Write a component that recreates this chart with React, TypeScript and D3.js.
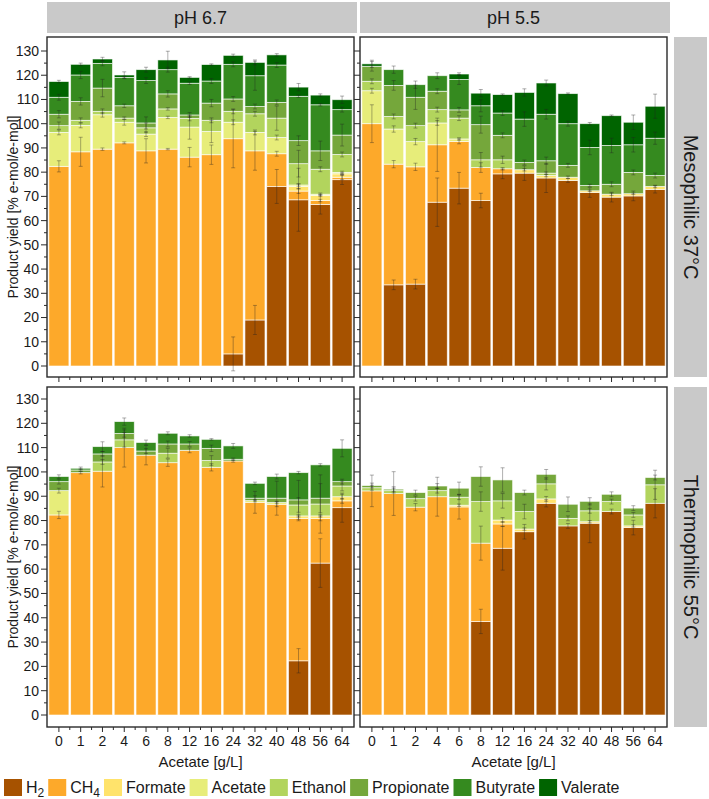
import React from 'react';
import * as d3 from 'd3';

// ---------- data ----------
const categories = ['0', '1', '2', '4', '6', '8', '12', '16', '24', '32', '40', '48', '56', '64'];
const seriesKeys = ['H2', 'CH4', 'Formate', 'Acetate', 'Ethanol', 'Propionate', 'Butyrate', 'Valerate'];
const seriesColors = ['#A65200', '#FDA92A', '#FFE36B', '#E7ED7A', '#B2D45D', '#75A73B', '#358A1F', '#006400'];
const phLabels = ['pH 6.7', 'pH 5.5'];
const tempLabels = ['Mesophilic 37°C', 'Thermophilic 55°C'];
const yTickValues = [0, 10, 20, 30, 40, 50, 60, 70, 80, 90, 100, 110, 120, 130];
const yTitle = 'Product yield [% e-mol/e-mol]';
const xTitle = 'Acetate [g/L]';

// Mesophilic, pH 6.7
const meso67H2 = [0, 0, 0, 0, 0, 0, 0, 0, 5, 19, 74.1, 68.6, 66.7, 76.9];
const meso67CH4 = [82.4, 88.4, 89.5, 92.1, 88.8, 89.5, 86.2, 87.2, 88.8, 69.8, 13.5, 3.6, 1.6, 1.0];
const meso67Formate = [0, 0, 0, 0, 0, 0, 0, 0, 0, 0, 0, 1.9, 2.1, 1.4];
const meso67Acetate = [14, 10.9, 14.2, 8.5, 6.9, 13.1, 12.4, 9.6, 6.8, 7.6, 6.7, 0.6, 0.5, 0.6];
const meso67Ethanol = [2.8, 2.1, 1.4, 1.7, 2.6, 3.5, 3.6, 4.6, 4.5, 7.7, 8, 8.8, 10.3, 7.4];
const meso67Propionate = [4.7, 7.8, 9.6, 5.1, 2, 6.2, 1.4, 7.1, 5.1, 3, 6.5, 9.5, 7.6, 8];
const meso67Butyrate = [7, 10.9, 10.2, 11.7, 17.5, 10, 13.1, 9.1, 14.3, 12.7, 15.4, 18.3, 19, 10.5];
const meso67Valerate = [6.5, 4.4, 1.8, 1.0, 4.5, 4, 2.4, 6.8, 3.7, 5.5, 4.2, 3.8, 4, 4.1];

// Mesophilic, pH 5.5
const meso55H2 = [0, 33.5, 33.8, 67.6, 73.4, 68.3, 79.3, 79.6, 77.6, 76.6, 71.6, 69.7, 70.2, 72.9];
const meso55CH4 = [100, 49.8, 48.4, 23.7, 19.3, 13.6, 2.1, 0, 0, 0, 0, 0, 0, 0];
const meso55Formate = [0, 0, 0, 0, 0, 0, 0, 1.4, 1, 1.3, 0.7, 1.2, 0.9, 1.2];
const meso55Acetate = [13.6, 14.5, 10.4, 9, 1, 0, 0, 0, 0, 0, 0, 0, 0, 0];
const meso55Ethanol = [3.9, 5.2, 6.6, 5.5, 8.6, 3.2, 3.7, 0, 1, 0, 0, 0, 0, 0];
const meso55Propionate = [6.2, 12.8, 11.7, 7.6, 3.4, 14.5, 10.1, 3, 5.1, 4.9, 2.2, 4.1, 8.8, 4.5];
const meso55Butyrate = [0, 6.5, 5.2, 6.4, 12.5, 7.8, 9.2, 17.9, 19.2, 17.2, 15.7, 16, 11.4, 15.4];
const meso55Valerate = [1, 0, 0, 0, 2.3, 5.2, 7.6, 11, 12.9, 12.4, 9.8, 12.3, 9.3, 13.2];

// Thermophilic, pH 6.7
const thermo67H2 = [0, 0, 0, 0, 0, 0, 0, 0, 0, 0, 0, 22.3, 62.5, 85.3];
const thermo67CH4 = [82.3, 99.7, 100.3, 110, 106.9, 103.8, 108.9, 101.9, 104.5, 87.5, 86.7, 58.6, 18.4, 2.8];
const thermo67Formate = [0, 0, 0, 0, 0, 0, 0, 0, 0, 0, 0, 1, 1, 1.7];
const thermo67Acetate = [10, 0, 0, 0, 0, 0, 0, 0, 0, 0.7, 0.7, 0, 0, 0];
const thermo67Ethanol = [0, 0, 3.8, 3.2, 0, 3.9, 0, 2.8, 0, 0, 0, 4.5, 4.9, 4.4];
const thermo67Propionate = [3.7, 1.1, 3.3, 2.6, 1.7, 3.8, 2.6, 5, 0.7, 1, 1.8, 2.1, 2.4, 1.8];
const thermo67Butyrate = [2.1, 0.7, 3, 4.9, 3.5, 4.4, 3.3, 3.7, 5.5, 6.1, 8.9, 11.2, 13.7, 13.7];
const thermo67Valerate = [0, 0, 0, 0, 0, 0, 0, 0, 0, 0, 0, 0, 0, 0];

// Thermophilic, pH 5.5
const thermo55H2 = [0, 0, 0, 0, 0, 38.5, 68.6, 75.4, 87.1, 77.8, 78.9, 83.7, 77.1, 87.1];
const thermo55CH4 = [92.2, 91.1, 85.5, 89.8, 85.6, 32.2, 10, 0, 0, 0, 0, 0, 0, 0];
const thermo55Formate = [0, 0, 0, 0, 0.7, 0, 1.6, 1.1, 1.8, 0, 0.6, 0, 0.7, 0];
const thermo55Acetate = [0, 0, 0, 0, 0, 0, 0, 0, 0, 0, 0, 0, 0, 0];
const thermo55Ethanol = [1.3, 1.2, 3.5, 2.5, 3.3, 17.1, 7.9, 7.2, 6.2, 3.1, 4.5, 4.1, 4.5, 7.6];
const thermo55Propionate = [0.9, 0.6, 2.5, 1.9, 3.7, 10.3, 8.6, 7.8, 3.9, 5.8, 3.9, 3, 2.8, 3];
const thermo55Butyrate = [0, 0, 0, 0, 0, 0, 0, 0, 0, 0, 0, 0, 0, 0];
const thermo55Valerate = [0, 0, 0, 0, 0, 0, 0, 0, 0, 0, 0, 0, 0, 0];

// Standard deviations (same series order)
const meso67Err = [
  [0, 0, 0, 0, 0, 0, 0, 0, 7, 6, 7, 13, 4, 2],
  [2.3, 6, 0.5, 0.4, 5, 0.3, 4, 4, 12, 8, 1, 1, 0.5, 1],
  [0, 0, 0, 0, 0, 0, 0, 0, 0, 0, 0, 1, 0.5, 0.5],
  [1, 1, 1, 1.2, 1, 0.5, 5, 4.6, 1, 1, 1, 0.5, 0.5, 0.5],
  [1.5, 1, 1, 0.5, 2, 0.5, 1, 1, 1, 1, 5, 5.5, 1, 1],
  [1.5, 1.5, 3.6, 0.7, 2.5, 1.3, 1, 1.5, 1, 1, 1, 2, 4, 4.5],
  [1.2, 1.5, 1, 0.5, 1.2, 1, 0.5, 1, 1, 6, 1, 0.5, 0.5, 1],
  [0.5, 0.5, 0.7, 1.3, 1, 3.6, 0.3, 0.3, 0.5, 1, 0.5, 1.5, 0.5, 1.5],
];
const meso55Err = [
  [0, 2, 2, 10, 6.5, 3, 2, 3, 6, 0.8, 2, 2, 2, 1.5],
  [7.8, 1.5, 1.5, 11, 1, 2, 0.5, 0, 0, 0, 0, 0, 0, 0],
  [0, 0, 0, 0, 0, 0, 0, 0.5, 0.5, 0.5, 0.3, 0.5, 0.3, 0.5],
  [1, 1.3, 1.3, 1, 0.5, 0, 0, 0, 0, 0, 0, 0, 0, 0],
  [1, 1, 1, 1, 1, 3, 1.5, 0, 0.5, 0, 0, 0, 0, 0],
  [2, 2, 5, 1, 1, 3.5, 1, 1, 1.5, 0.8, 0.5, 1, 1, 1],
  [0, 1.5, 1.5, 1.2, 2, 2.5, 1, 3, 2, 1, 3, 3, 3, 2.5],
  [1.5, 0, 0, 0, 0.5, 1.5, 0.3, 1.5, 1.2, 0.3, 0.5, 0.3, 3, 5],
];
const thermo67Err = [
  [0, 0, 0, 0, 0, 0, 0, 0, 0, 0, 0, 5, 10, 6],
  [1.5, 0.5, 6.5, 8, 4, 1.5, 1, 1.5, 0.5, 4.5, 1, 1, 1, 1],
  [0, 0, 0, 0, 0, 0, 0, 0, 0, 0, 0, 0.5, 0.5, 1],
  [1, 0, 0, 0, 0, 0, 0, 0, 0, 0.5, 0.5, 0, 0, 0],
  [0, 0, 1, 3, 0, 2, 0, 2, 0, 0, 0, 3, 12, 2],
  [1, 0.5, 1, 1.5, 1, 1.2, 1, 1.3, 0.5, 1, 7, 8, 6, 1],
  [0.7, 0.5, 2, 1.5, 1, 0.6, 0.5, 0.3, 1, 0.5, 1, 0.5, 0.5, 3.5],
  [0, 0, 0, 0, 0, 0, 0, 0, 0, 0, 0, 0, 0, 0],
];
const thermo55Err = [
  [0, 0, 0, 0, 0, 5, 9, 3, 1.5, 1, 8, 1, 3, 6],
  [6.5, 9, 1.5, 8, 5, 7, 1, 0, 0, 0, 0, 0, 0, 0],
  [0, 0, 0, 0, 0.5, 0, 1, 0.5, 1, 0, 0.5, 0, 0.5, 0],
  [0, 0, 0, 0, 0, 0, 0, 0, 0, 0, 0, 0, 0, 0],
  [1, 1, 1, 1, 1, 4, 3, 3, 2.5, 1, 1, 1, 1, 6],
  [1, 1, 1, 1, 2.5, 4, 5, 1, 2, 3, 1.5, 1, 1, 1],
  [0, 0, 0, 0, 0, 0, 0, 0, 0, 0, 0, 0, 0, 0],
  [0, 0, 0, 0, 0, 0, 0, 0, 0, 0, 0, 0, 0, 0],
];

const panelsData = [
  { row: 0, col: 0, values: [meso67H2, meso67CH4, meso67Formate, meso67Acetate, meso67Ethanol, meso67Propionate, meso67Butyrate, meso67Valerate], errors: meso67Err },
  { row: 0, col: 1, values: [meso55H2, meso55CH4, meso55Formate, meso55Acetate, meso55Ethanol, meso55Propionate, meso55Butyrate, meso55Valerate], errors: meso55Err },
  { row: 1, col: 0, values: [thermo67H2, thermo67CH4, thermo67Formate, thermo67Acetate, thermo67Ethanol, thermo67Propionate, thermo67Butyrate, thermo67Valerate], errors: thermo67Err },
  { row: 1, col: 1, values: [thermo55H2, thermo55CH4, thermo55Formate, thermo55Acetate, thermo55Ethanol, thermo55Propionate, thermo55Butyrate, thermo55Valerate], errors: thermo55Err },
];

// ---------- layout ----------
const W = 709;
const H = 799;
const FONT = 'Liberation Sans, Arial, Helvetica, sans-serif';
const colX = [[47, 354], [360, 667]];
const rowY = [[37, 377], [387, 727]];
const rowZero = [366, 715];
const rowTop130 = [51, 399];
const stripTop = [2, 33];
const stripRight = [674, 707];
const textColor = '#1a1a1a';

function measure(text: string, size: number) {
  const c = document.createElement('canvas').getContext('2d');
  if (!c) return text.length * size * 0.55;
  c.font = `${size}px ${FONT}`;
  return c.measureText(text).width;
}

function Panel({ p }: { p: typeof panelsData[number] }) {
  const [x0, x1] = colX[p.col];
  const [y0, y1] = rowY[p.row];
  const x = d3.scaleBand<string>().domain(categories).range([x0 + 1, x1 - 1]).paddingInner(0.08).paddingOuter(0.04);
  const y = d3.scaleLinear().domain([0, 130]).range([rowZero[p.row], rowTop130[p.row]]);
  const table = categories.map((c, i) => {
    const o: any = { cat: c };
    seriesKeys.forEach((k, s) => (o[k] = p.values[s][i]));
    return o;
  });
  const stacked = d3.stack<any>().keys(seriesKeys)(table);
  const minorY = d3.range(5, 135, 10);
  const bw = x.bandwidth();
  const step = x.step();
  const minorX = categories.slice(0, -1).map((c) => (x(c) as number) + bw + (step - bw) / 2);
  return (
    <g>
      {stacked.map((layer, s) => (
        <g key={layer.key} fill={seriesColors[s]}>
          {layer.map((d, i) =>
            d[1] - d[0] > 0 ? (
              <rect
                key={i}
                x={x(categories[i])}
                y={y(d[1])}
                width={bw}
                height={y(d[0]) - y(d[1])}
                stroke="#ffffff"
                strokeOpacity={0.75}
                strokeWidth={0.8}
              />
            ) : null
          )}
        </g>
      ))}
      {stacked.map((layer, s) =>
        layer.map((d, i) => {
          const e = p.errors[s][i];
          if (!(d[1] - d[0] > 0) || !e) return null;
          const cx = (x(categories[i]) as number) + bw / 2;
          const ya = y(d[1] + e);
          const yb = y(d[1] - e);
          return (
            <g key={`e${s}-${i}`} stroke="#222" strokeOpacity={0.45} strokeWidth={0.8}>
              <line x1={cx} x2={cx} y1={ya} y2={yb} />
              <line x1={cx - 2} x2={cx + 2} y1={ya} y2={ya} />
              <line x1={cx - 2} x2={cx + 2} y1={yb} y2={yb} />
            </g>
          );
        })
      )}
      {/* frame */}
      <rect x={x0} y={y0} width={x1 - x0} height={y1 - y0} fill="none" stroke="#2a2a2a" strokeWidth={1.4} />
      {/* y ticks */}
      {yTickValues.map((v) => (
        <line key={`yt${v}`} x1={x0 - 6} x2={x0} y1={y(v)} y2={y(v)} stroke="#2a2a2a" strokeWidth={1} />
      ))}
      {minorY.map((v) => (
        <line key={`ym${v}`} x1={x0 - 3} x2={x0} y1={y(v)} y2={y(v)} stroke="#2a2a2a" strokeWidth={1} />
      ))}
      {p.col === 0 &&
        yTickValues.map((v) => (
          <text key={`yl${v}`} x={x0 - 8} y={y(v)} dy="0.35em" textAnchor="end" fontSize={14} fill={textColor} fontFamily={FONT}>
            {v}
          </text>
        ))}
      {/* x ticks */}
      {categories.map((c) => {
        const cx = (x(c) as number) + bw / 2;
        return <line key={`xt${c}`} x1={cx} x2={cx} y1={y1} y2={y1 + 5} stroke="#2a2a2a" strokeWidth={1} />;
      })}
      {minorX.map((mx, i) => (
        <line key={`xm${i}`} x1={mx} x2={mx} y1={y1} y2={y1 + 3} stroke="#2a2a2a" strokeWidth={1} />
      ))}
      {p.row === 1 &&
        categories.map((c) => (
          <text key={`xl${c}`} x={(x(c) as number) + bw / 2} y={y1 + 19} textAnchor="middle" fontSize={14} fill={textColor} fontFamily={FONT}>
            {c}
          </text>
        ))}
    </g>
  );
}

function Legend() {
  const size = 16;
  const subSize = 12;
  const boxW = 18;
  let cur = 4;
  const items = seriesKeys.map((k, i) => {
    const isSub = k === 'H2' || k === 'CH4';
    const main = isSub ? k.slice(0, -1) : k;
    const sub = isSub ? k.slice(-1) : '';
    const tw = measure(main, size) + (sub ? measure(sub, subSize) : 0);
    const item = { k, main, sub, bx: cur, tx: cur + boxW + 4, color: seriesColors[i] };
    cur = cur + boxW + 4 + tw + 4;
    return item;
  });
  return (
    <g>
      {items.map((it) => (
        <g key={it.k}>
          <rect x={it.bx} y={779} width={boxW} height={17} fill={it.color} />
          <text x={it.tx} y={793} fontSize={size} fill={textColor} fontFamily={FONT}>
            {it.main}
            {it.sub && (
              <tspan fontSize={subSize} dy={4}>
                {it.sub}
              </tspan>
            )}
          </text>
        </g>
      ))}
    </g>
  );
}

export default function App() {
  return (
    <svg width={W} height={H} style={{ position: 'absolute', left: 0, top: 0, background: '#fff' }} fontFamily={FONT}>
      <rect x={0} y={0} width={W} height={H} fill="#ffffff" />
      {/* column strips */}
      {phLabels.map((l, c) => (
        <g key={l}>
          <rect x={colX[c][0]} y={stripTop[0]} width={colX[c][1] - colX[c][0] + 3} height={stripTop[1] - stripTop[0]} fill="#c9c9c9" />
          <text x={(colX[c][0] + colX[c][1]) / 2} y={(stripTop[0] + stripTop[1]) / 2} dy="0.35em" textAnchor="middle" fontSize={18} fill={textColor}>
            {l}
          </text>
        </g>
      ))}
      {/* row strips */}
      {tempLabels.map((l, r) => {
        const cy = (rowY[r][0] + rowY[r][1]) / 2;
        const cx = (stripRight[0] + stripRight[1]) / 2;
        return (
          <g key={l}>
            <rect x={stripRight[0]} y={rowY[r][0]} width={stripRight[1] - stripRight[0]} height={rowY[r][1] - rowY[r][0]} fill="#c9c9c9" />
            <text x={cx} y={cy} dy="0.35em" textAnchor="middle" fontSize={20} fill={textColor} transform={`rotate(90 ${cx} ${cy})`}>
              {l}
            </text>
          </g>
        );
      })}
      {panelsData.map((p) => (
        <Panel key={`${p.row}-${p.col}`} p={p} />
      ))}
      {/* y titles */}
      {rowY.map((ry, r) => {
        const cy = (ry[0] + ry[1]) / 2;
        return (
          <text key={`yt${r}`} x={13} y={cy} dy="0.35em" textAnchor="middle" fontSize={14} fill={textColor} transform={`rotate(-90 13 ${cy})`}>
            {yTitle}
          </text>
        );
      })}
      {/* x titles */}
      {colX.map((cx, c) => (
        <text key={`xt${c}`} x={(cx[0] + cx[1]) / 2} y={767} textAnchor="middle" fontSize={15} fill={textColor}>
          {xTitle}
        </text>
      ))}
      <Legend />
    </svg>
  );
}
